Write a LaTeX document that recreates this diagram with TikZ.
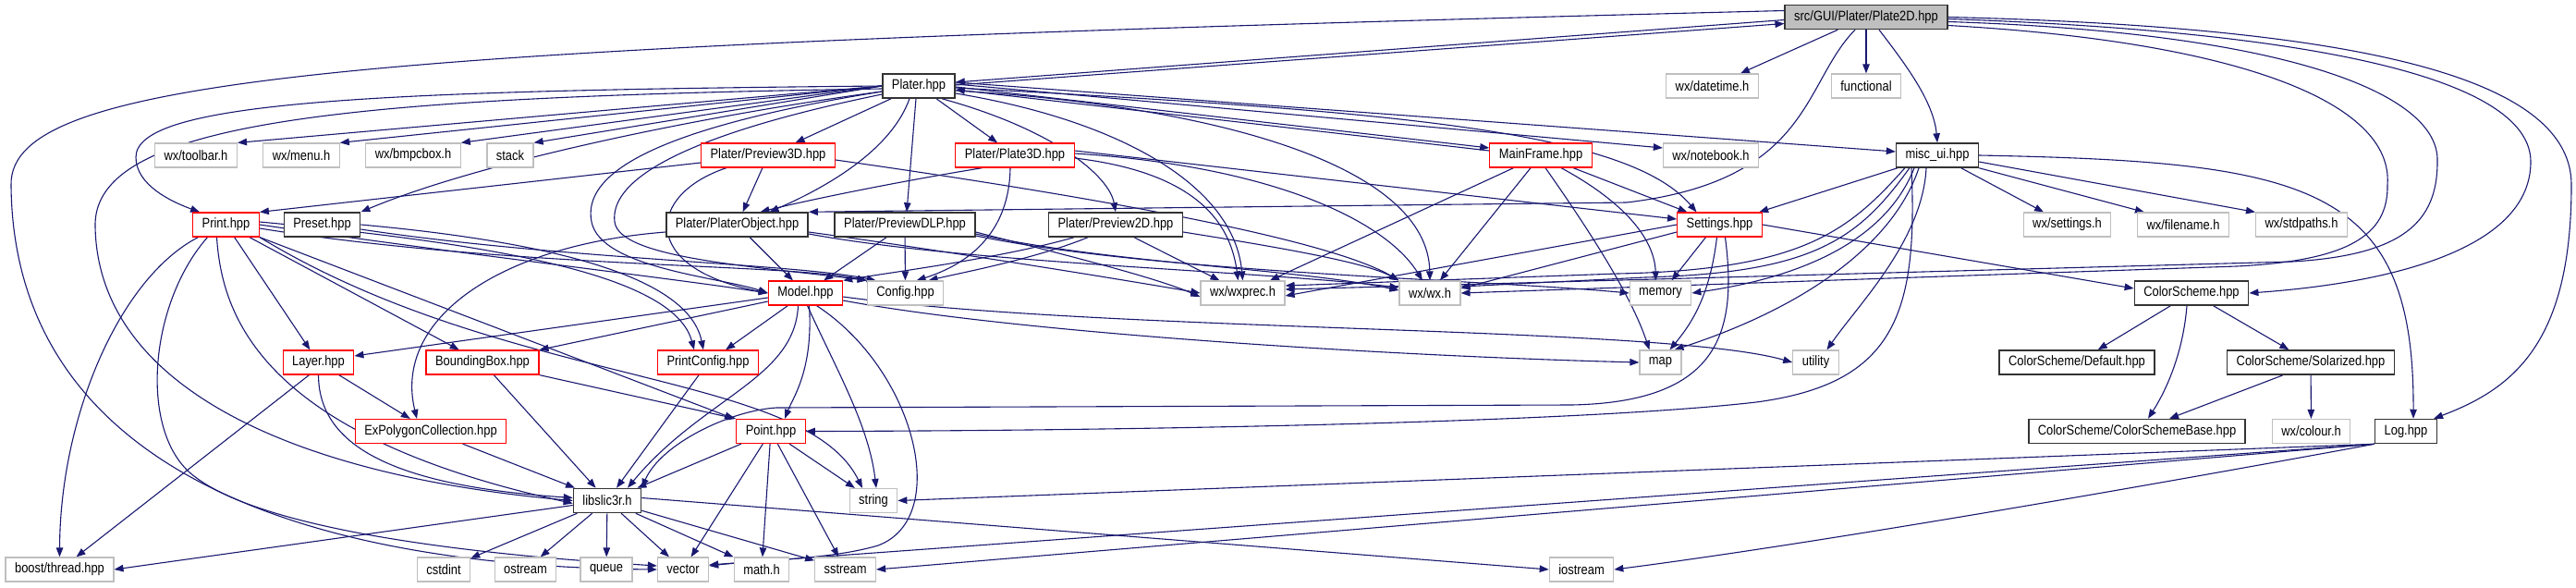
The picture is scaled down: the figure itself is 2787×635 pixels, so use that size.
\documentclass[tikz,border=0pt]{standalone}
\usepackage{fontspec}
\setmainfont{Liberation Sans}[FakeStretch=0.86]
\usetikzlibrary{arrows.meta,backgrounds}

\definecolor{inclblue}{HTML}{191970}
\definecolor{sysgray}{HTML}{BFBFBF}

\tikzset{
  hfile/.style={draw, fill=white, minimum height=26pt, inner xsep=10pt, inner ysep=0pt,
    font=\fontsize{15}{18}\selectfont},
  docfile/.style={hfile, draw=black!80, line width=1.5pt},
  cutfile/.style={hfile, draw=red, line width=1.2pt},
  sysfile/.style={hfile, draw=sysgray, line width=1.2pt},
  rootfile/.style={docfile, fill=sysgray},
  incl/.style={draw=inclblue, line width=1.1pt, -{Triangle[length=10pt,width=7.5pt]}},
}

\begin{document}
\begin{tikzpicture}[x=1pt,y=-1pt]
    \useasboundingbox (0,0) rectangle (2787,635);

    % Files
    \node[rootfile] (p2d) at (2019,18.5) {src/GUI/Plater/Plate2D.hpp};
    \node[docfile] (plater) at (994,93) {Plater.hpp};
    \node[sysfile] (datetime) at (1852.5,93) {wx/datetime.h};
    \node[sysfile] (functional) at (2019,93) {functional};

    \node[sysfile] (toolbar) at (212,168) {wx/toolbar.h};
    \node[sysfile] (menu) at (326,168) {wx/menu.h};
    \node[sysfile] (bmpcbox) at (447,168) {wx/bmpcbox.h};
    \node[sysfile] (stack) at (552,168) {stack};
    \node[cutfile] (preview3d) at (831,168) {Plater/Preview3D.hpp};
    \node[cutfile] (plate3d) at (1098,168) {Plater/Plate3D.hpp};
    \node[cutfile] (mainframe) at (1667,168) {MainFrame.hpp};
    \node[sysfile] (notebook) at (1851,168) {wx/notebook.h};
    \node[docfile] (miscui) at (2096,168) {misc\_ui.hpp};

    \node[cutfile] (print) at (244.5,243) {Print.hpp};
    \node[docfile] (preset) at (348.5,243) {Preset.hpp};
    \node[docfile] (platerobj) at (797.5,243) {Plater/PlaterObject.hpp};
    \node[docfile] (previewdlp) at (979,243) {Plater/PreviewDLP.hpp};
    \node[docfile] (preview2d) at (1207,243) {Plater/Preview2D.hpp};
    \node[cutfile] (settings) at (1860.5,243) {Settings.hpp};
    \node[sysfile] (wxsettings) at (2236.5,243) {wx/settings.h};
    \node[sysfile] (filename) at (2362,243) {wx/filename.h};
    \node[sysfile] (stdpaths) at (2490,243) {wx/stdpaths.h};

    \node[cutfile] (model) at (871.5,317) {Model.hpp};
    \node[sysfile] (config) at (979.5,317) {Config.hpp};
    \node[sysfile] (wxprec) at (1344.5,317) {wx/wxprec.h};
    \node[sysfile] (wxh) at (1547,317) {wx/wx.h};
    \node[sysfile] (memory) at (1796.5,317) {memory};
    \node[docfile] (colorscheme) at (2371,317) {ColorScheme.hpp};

    \node[cutfile] (layer) at (344.5,392) {Layer.hpp};
    \node[cutfile] (bbox) at (522,392) {BoundingBox.hpp};
    \node[cutfile] (printconfig) at (766,392) {PrintConfig.hpp};
    \node[sysfile] (map) at (1796.5,392) {map};
    \node[sysfile] (utility) at (1964.5,392) {utility};
    \node[docfile] (csdefault) at (2247,392) {ColorScheme/Default.hpp};
    \node[docfile] (cssolarized) at (2500,392) {ColorScheme/Solarized.hpp};

    \node[cutfile] (expoly) at (466,466.5) {ExPolygonCollection.hpp};
    \node[cutfile] (point) at (834,466.5) {Point.hpp};
    \node[docfile] (csbase) at (2312,466.5) {ColorScheme/ColorSchemeBase.hpp};
    \node[sysfile] (colour) at (2500.5,466.5) {wx/colour.h};
    \node[docfile] (log) at (2603,466.5) {Log.hpp};

    \node[docfile] (libslic3r) at (657,541.5) {libslic3r.h};
    \node[sysfile] (string) at (945,541.5) {string};

    \node[sysfile] (thread) at (64.5,616) {boost/thread.hpp};
    \node[sysfile] (cstdint) at (480,616) {cstdint};
    \node[sysfile] (ostream) at (568.5,616) {ostream};
    \node[sysfile] (queue) at (656,616) {queue};
    \node[sysfile] (vector) at (739,616) {vector};
    \node[sysfile] (math) at (824,616) {math.h};
    \node[sysfile] (sstream) at (914.6,616) {sstream};
    \node[sysfile] (iostream) at (1711,616) {iostream};

    % Includes
    \begin{scope}[on background layer]
    % Plate2D.hpp
    \draw[incl] ([yshift=-3pt]p2d.west) -- ([yshift=4pt]plater.east);
    \draw[incl] ([yshift=1pt]plater.east) -- ([yshift=-7pt]p2d.west);
    \draw[incl] ([yshift=7pt]p2d.west) .. controls (400,50) and (10,80) .. (12,200) .. controls (14,470) and (260,612) .. (vector.west);
    \draw[incl] (p2d) -- (datetime);
    \draw[incl] (p2d) -- (functional);
    \draw[incl] ([xshift=14pt]p2d.south) .. controls (2062,70) and (2092,110) .. (miscui.north);
    \draw[incl] ([xshift=-12pt]p2d.south) .. controls (1950,90) and (1960,195) .. (1760,219) -- (platerobj.north east);
    \draw[incl] ([yshift=-9pt]p2d.east) .. controls (2420,45) and (2590,110) .. (2583,200) .. controls (2584,255) and (2540,282) .. (2420,288) -- (wxh.east);
    \draw[incl] ([yshift=-5pt]p2d.east) .. controls (2470,35) and (2640,100) .. (2637,175) .. controls (2637,240) and (2600,276) .. (2480,283) -- ([yshift=4pt]wxprec.east);
    \draw[incl] ([yshift=-2pt]p2d.east) .. controls (2530,35) and (2738,90) .. (2738,175) .. controls (2738,265) and (2600,305) .. (colorscheme.east);
    \draw[incl] (p2d.east) .. controls (2580,30) and (2782,90) .. (2782,200) .. controls (2782,370) and (2720,420) .. ([xshift=-4pt]log.north east);

    % Plater.hpp
    \draw[incl] (plater.west) -- (toolbar.north east);
    \draw[incl] (plater.west) -- (menu.north east);
    \draw[incl] (plater.west) -- (bmpcbox.north east);
    \draw[incl] (plater.west) -- (stack.north east);
    \draw[incl] (plater.west) .. controls (400,98) and (147,110) .. (147,170) .. controls (147,200) and (185,218) .. ([xshift=8pt]print.north west);
    \draw[incl] ([yshift=-3pt]plater.west) .. controls (380,105) and (100,130) .. (103,245) .. controls (106,420) and (320,515) .. (libslic3r.west);
    \draw[incl] ([yshift=-6pt]plater.west) .. controls (760,125) and (520,175) .. (preset.north east);
    \draw[incl] ([yshift=-6pt]plater.west) .. controls (700,140) and (630,190) .. (640,240) .. controls (650,290) and (780,300) .. (model.west);
    \draw[incl] ([yshift=-9pt]plater.west) .. controls (720,150) and (660,200) .. (665,240) .. controls (670,280) and (820,288) .. (config.north west);
    \draw[incl] (plater) -- (preview3d);
    \draw[incl] (plater) -- (plate3d);
    \draw[incl] ([xshift=-10pt]plater.south) .. controls (965,160) and (900,200) .. ([xshift=35pt]platerobj.north);
    \draw[incl] ([xshift=-3pt]plater.south) -- ([xshift=2pt]previewdlp.north);
    \draw[incl] ([xshift=25pt]plater.south) .. controls (1140,140) and (1200,190) .. (preview2d.north);
    \draw[incl] ([yshift=-8pt]plater.east) .. controls (1210,130) and (1335,200) .. (wxprec.north);
    \draw[incl] ([yshift=-5pt]plater.east) .. controls (1320,115) and (1545,180) .. (wxh.north);
    \draw[incl] ([yshift=-1pt]plater.east) -- ([yshift=8pt]mainframe.west);
    \draw[incl] ([yshift=5pt]mainframe.west) -- ([yshift=-4pt]plater.east);
    \draw[incl] ([yshift=2pt]plater.east) -- ([yshift=8pt]notebook.west);
    \draw[incl] ([yshift=4pt]plater.east) -- ([yshift=4pt]miscui.west);
    \draw[incl] ([yshift=-2pt]plater.east) .. controls (1500,120) and (1760,140) .. ([xshift=-25pt]settings.north);

    % Plater/Preview3D.hpp, Plater/Plate3D.hpp
    \draw[incl] (preview3d) -- (platerobj);
    \draw[incl] ([xshift=-45pt]preview3d.south) .. controls (700,210) and (690,290) .. (model.west);
    \draw[incl] ([yshift=-8pt]preview3d.west) -- (print.north east);
    \draw[incl] ([yshift=-5pt]preview3d.east) .. controls (1200,215) and (1440,260) .. (wxh.north west);
    \draw[incl] ([xshift=-35pt]plate3d.south) .. controls (980,195) and (880,215) .. ([xshift=25pt]platerobj.north);
    \draw[incl] ([xshift=-5pt]plate3d.south) .. controls (1092,250) and (1050,285) .. ([xshift=12pt]config.north);
    \draw[incl] ([yshift=-3pt]plate3d.east) .. controls (1280,185) and (1330,230) .. ([xshift=-5pt]wxprec.north);
    \draw[incl] ([yshift=2pt]plate3d.east) .. controls (1380,180) and (1500,240) .. ([xshift=-8pt]wxh.north);
    \draw[incl] ([yshift=5pt]plate3d.east) -- ([yshift=6pt]settings.west);

    % Plater/PlaterObject.hpp, Plater/PreviewDLP.hpp, Plater/Preview2D.hpp
    \draw[incl] (platerobj) -- (model);
    \draw[incl] ([yshift=-8pt]platerobj.west) .. controls (540,265) and (425,345) .. ([xshift=-15pt]expoly.north);
    \draw[incl] ([yshift=-8pt]platerobj.east) .. controls (1000,268) and (1200,300) .. (wxprec.west);
    \draw[incl] ([yshift=-10pt]platerobj.east) .. controls (1050,285) and (1350,292) .. ([yshift=6pt]wxh.west);
    \draw[incl] (previewdlp) -- (model);
    \draw[incl] (previewdlp) -- (config);
    \draw[incl] ([yshift=-8pt]previewdlp.east) .. controls (1150,275) and (1250,300) .. ([yshift=-4pt]wxprec.west);
    \draw[incl] ([yshift=-10pt]previewdlp.east) .. controls (1200,285) and (1400,290) .. ([yshift=3pt]wxh.west);
    \draw[incl] ([yshift=-12pt]previewdlp.east) .. controls (1250,295) and (1600,302) .. (memory.west);
    \draw[incl] ([xshift=-45pt]preview2d.south) .. controls (1080,280) and (960,295) .. (model.north east);
    \draw[incl] ([xshift=-30pt]preview2d.south) .. controls (1120,280) and (1040,295) .. ([xshift=25pt]config.north);
    \draw[incl] ([xshift=20pt]preview2d.south) -- ([xshift=-25pt]wxprec.north);
    \draw[incl] ([yshift=-8pt]preview2d.east) .. controls (1400,270) and (1480,285) .. (wxh.north west);

    % Print.hpp, Preset.hpp
    \draw[incl] ([xshift=-30pt]print.south) .. controls (130,300) and (65,450) .. (thread.north);
    \draw[incl] ([xshift=-10pt]print.south) .. controls (240,340) and (280,470) .. ([yshift=-3pt]libslic3r.west);
    \draw[incl] ([xshift=-20pt]print.south) .. controls (160,330) and (150,470) .. (210,515) .. controls (300,585) and (600,605) .. ([yshift=4pt]vector.west);
    \draw[incl] (print) -- (layer);
    \draw[incl] (print) -- (bbox);
    \draw[incl] (print.south east) -- ([xshift=-2pt]point.north west);
    \draw[incl] (print.south east) .. controls (550,420) and (870,400) .. ([xshift=-12pt]string.north);
    \draw[incl] (print.east) .. controls (500,275) and (720,300) .. (model.west);
    \draw[incl] ([yshift=-4pt]print.east) .. controls (550,290) and (850,285) .. (config.north west);
    \draw[incl] ([yshift=3pt]print.east) .. controls (550,265) and (730,300) .. ([xshift=-15pt]printconfig.north);
    \draw[incl] (preset.east) .. controls (600,262) and (745,300) .. ([xshift=-5pt]printconfig.north);
    \draw[incl] ([yshift=-5pt]preset.east) .. controls (600,280) and (860,285) .. ([xshift=10pt]config.north west);

    % Model.hpp
    \draw[incl] (model) -- (printconfig);
    \draw[incl] ([yshift=-5pt]model.west) -- ([yshift=7pt]layer.east);
    \draw[incl] ([yshift=-9pt]model.west) -- (bbox.north east);
    \draw[incl] ([xshift=-8pt]model.south) .. controls (860,410) and (760,430) .. ([xshift=22pt]libslic3r.north);
    \draw[incl] ([xshift=4pt]model.south) .. controls (880,400) and (858,430) .. ([xshift=15pt]point.north);
    \draw[incl] ([xshift=2pt]model.south) .. controls (905,400) and (940,460) .. ([xshift=3pt]string.north);
    \draw[incl] ([xshift=12pt]model.south) .. controls (990,400) and (1030,560) .. (950,590) .. controls (900,605) and (820,606) .. ([yshift=4pt]vector.east);
    \draw[incl] ([yshift=-8pt]model.east) .. controls (1100,360) and (1500,385) .. (map.west);
    \draw[incl] ([yshift=-4pt]model.east) .. controls (1200,360) and (1800,352) .. (utility.west);

    % Layer.hpp, BoundingBox.hpp, ExPolygonCollection.hpp, PrintConfig.hpp, Point.hpp
    \draw[incl] (layer) -- (expoly);
    \draw[incl] (layer.south) .. controls (345,480) and (420,525) .. ([yshift=3pt]libslic3r.west);
    \draw[incl] ([xshift=-10pt]layer.south) -- ([xshift=18pt]thread.north);
    \draw[incl] (bbox) -- (libslic3r);
    \draw[incl] (bbox.south east) -- (point.north west);
    \draw[incl] (expoly) -- (libslic3r);
    \draw[incl] (printconfig) -- (libslic3r);
    \draw[incl] (point) -- (libslic3r);
    \draw[incl] (point) -- (vector);
    \draw[incl] (point) -- (math);
    \draw[incl] (point) -- (sstream);
    \draw[incl] (point) -- (string);

    % libslic3r.h
    \draw[incl] ([yshift=-5pt]libslic3r.west) -- (thread.east);
    \draw[incl] (libslic3r) -- (cstdint);
    \draw[incl] (libslic3r) -- (ostream);
    \draw[incl] (libslic3r) -- (queue);
    \draw[incl] (libslic3r) -- (vector);
    \draw[incl] (libslic3r) -- (math);
    \draw[incl] (libslic3r) -- (sstream);
    \draw[incl] ([yshift=3pt]libslic3r.east) -- (iostream.west);

    % MainFrame.hpp
    \draw[incl] (mainframe) -- (wxprec);
    \draw[incl] (mainframe) -- (wxh);
    \draw[incl] ([xshift=5pt]mainframe.south) .. controls (1720,250) and (1765,320) .. ([xshift=-12pt]map.north);
    \draw[incl] ([xshift=22pt]mainframe.south) .. controls (1760,220) and (1790,260) .. ([xshift=-5pt]memory.north);
    \draw[incl] (mainframe) -- (settings);

    % Settings.hpp
    \draw[incl] (settings.west) -- ([yshift=-3pt]wxprec.east);
    \draw[incl] ([yshift=-8pt]settings.west) -- ([yshift=5pt]wxh.east);
    \draw[incl] ([xshift=-15pt]settings.south) -- ([xshift=12pt]memory.north);
    \draw[incl] ([xshift=-3pt]settings.south) .. controls (1850,320) and (1830,350) .. ([xshift=10pt]map.north);
    \draw[incl] ([xshift=6pt]settings.south) .. controls (1880,360) and (1860,435) .. (1700,438) -- (840,441) .. controls (790,444) and (715,480) .. (libslic3r.north east);
    \draw[incl] (settings.east) -- ([yshift=5pt]colorscheme.west);

    % misc_ui.hpp
    \draw[incl] (miscui) -- (settings);
    \draw[incl] ([xshift=10pt]miscui.south west) .. controls (2000,250) and (1950,292) .. (1750,296) -- ([yshift=8pt]wxprec.east);
    \draw[incl] ([xshift=15pt]miscui.south west) .. controls (2010,260) and (1960,295) .. (1780,300) -- ([yshift=7pt]wxh.east);
    \draw[incl] ([xshift=-25pt]miscui.south) .. controls (2040,260) and (1950,300) .. (memory.east);
    \draw[incl] ([xshift=-20pt]miscui.south) .. controls (2050,260) and (1960,330) .. ([xshift=15pt]map.north);
    \draw[incl] ([xshift=-12pt]miscui.south) .. controls (2080,260) and (2010,330) .. ([xshift=12pt]utility.north);
    \draw[incl] ([xshift=-28pt]miscui.south) .. controls (2075,340) and (2050,415) .. (1900,435) .. controls (1700,458) and (1200,466) .. (point.east);
    \draw[incl] (miscui) -- (wxsettings);
    \draw[incl] (miscui.south east) -- ([xshift=8pt]filename.north west);
    \draw[incl] ([yshift=-7pt]miscui.east) -- (stdpaths.north west);
    \draw[incl] (miscui.east) .. controls (2500,175) and (2612,200) .. ([xshift=8pt]log.north);

    % ColorScheme.hpp, Log.hpp
    \draw[incl] (colorscheme) -- (csdefault);
    \draw[incl] ([xshift=-5pt]colorscheme.south) .. controls (2362,380) and (2345,420) .. ([xshift=12pt]csbase.north);
    \draw[incl] (colorscheme) -- (cssolarized);
    \draw[incl] ([xshift=-30pt]cssolarized.south) -- ([xshift=35pt]csbase.north);
    \draw[incl] (cssolarized) -- (colour);
    \draw[incl] (log.south west) -- (string.east);
    \draw[incl] (log.south west) -- ([yshift=5pt]vector.east);
    \draw[incl] (log.south west) -- (sstream.east);
    \draw[incl] (log.south west) .. controls (2300,530) and (1950,590) .. (iostream.east);
    \end{scope}

\end{tikzpicture}
\end{document}
